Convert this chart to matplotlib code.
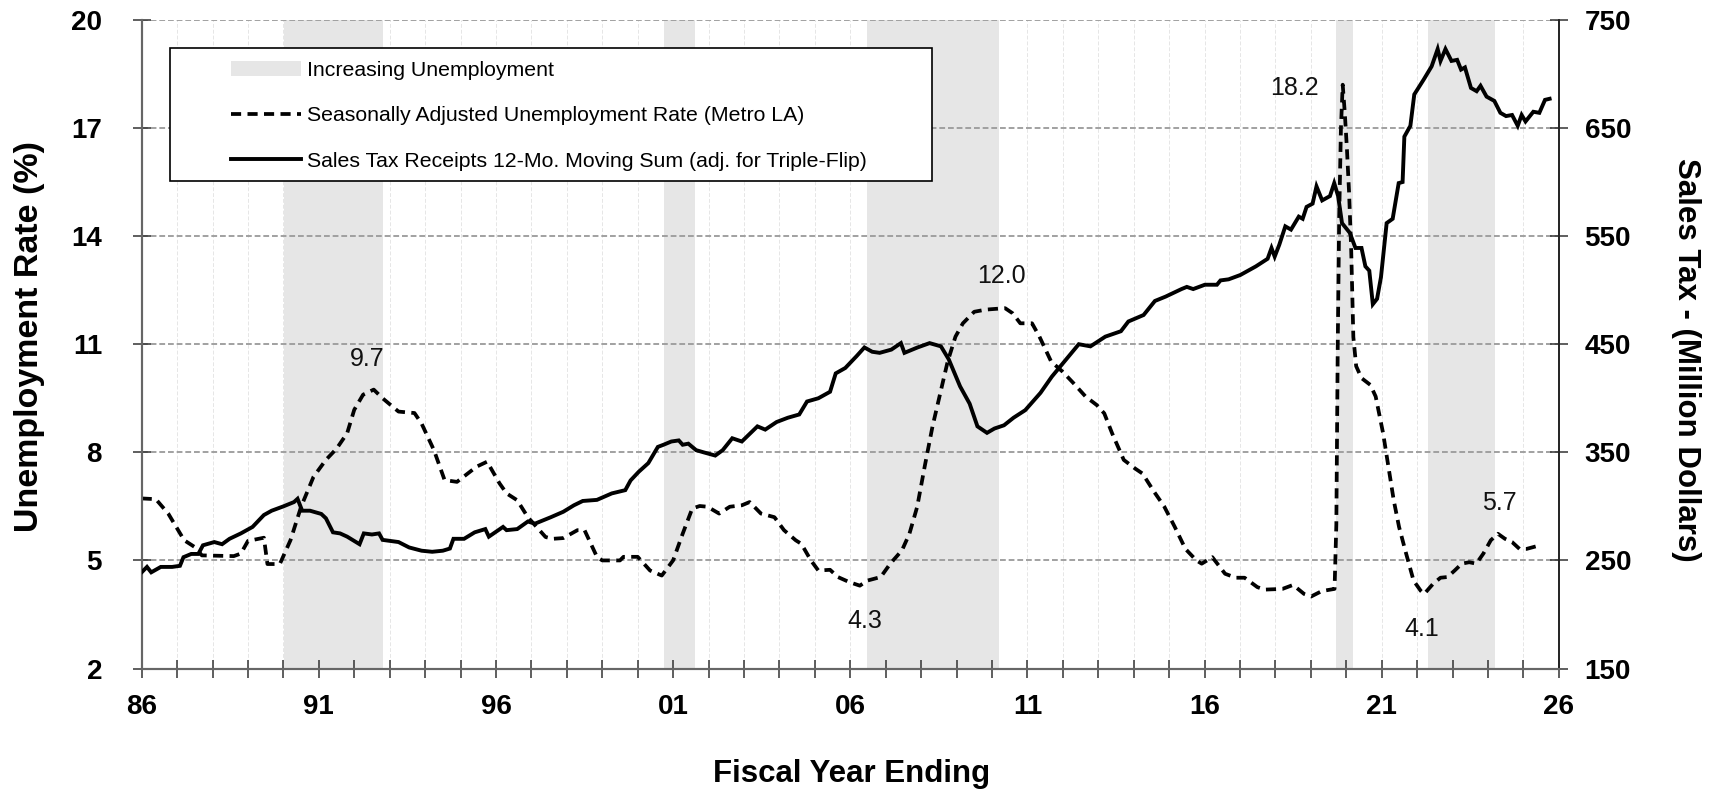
import numpy as np
import matplotlib
matplotlib.use("Agg")
import matplotlib.pyplot as plt
from matplotlib.patches import Patch, Rectangle
from matplotlib.lines import Line2D

plt.rcParams["font.family"] = ["Liberation Sans", "DejaVu Sans"]
plt.rcParams["hatch.color"] = "#c4c4c4"
plt.rcParams["hatch.linewidth"] = 0.6

# seasonally adjusted unemployment rate, metro LA (%)
unemp_year = [1986.0, 1986.4, 1986.75, 1987.2, 1987.5, 1987.7, 1988.6, 1988.8, 1989.0, 1989.45,
              1989.55, 1989.9, 1990.2, 1990.5, 1990.85, 1991.2, 1991.5, 1991.8, 1992.0, 1992.25,
              1992.55, 1992.8, 1993.25, 1993.7, 1993.9, 1994.25, 1994.55, 1994.9, 1995.2, 1995.45,
              1995.75, 1996.1, 1996.3, 1996.6, 1996.9, 1997.4, 1997.6, 1997.9, 1998.3, 1998.5,
              1998.85, 1999.0, 1999.5, 1999.6, 2000.0, 2000.35, 2000.68, 2001.0, 2001.27, 2001.54,
              2001.75, 2001.97, 2002.3, 2002.6, 2002.94, 2003.16, 2003.48, 2003.86, 2004.13, 2004.46,
              2004.62, 2004.89, 2005.1, 2005.43, 2005.65, 2005.97, 2006.27, 2006.48, 2006.86, 2007.13,
              2007.46, 2007.67, 2007.89, 2008.1, 2008.32, 2008.54, 2008.75, 2008.97, 2009.18, 2009.5,
              2009.83, 2010.37, 2010.58, 2010.8, 2011.13, 2011.34, 2011.67, 2011.99, 2012.3, 2012.64,
              2012.96, 2013.17, 2013.39, 2013.72, 2014.04, 2014.25, 2014.58, 2014.86, 2015.16, 2015.46,
              2015.77, 2015.92, 2016.22, 2016.58, 2016.88, 2017.13, 2017.49, 2017.69, 2018.2, 2018.5,
              2018.81, 2019.01, 2019.31, 2019.67, 2019.72, 2019.76, 2019.8, 2019.85, 2019.9, 2019.96,
              2020.02, 2020.08, 2020.14, 2020.2, 2020.28, 2020.43, 2020.68, 2020.83, 2021.04, 2021.19,
              2021.34, 2021.49, 2021.69, 2021.9, 2022.1, 2022.2, 2022.45, 2022.66, 2022.86, 2023.06,
              2023.26, 2023.47, 2023.67, 2023.87, 2024.08, 2024.28, 2024.48, 2024.68, 2024.89, 2025.09,
              2025.39]
unemp_rate = [6.72, 6.7, 6.3, 5.56, 5.37, 5.14, 5.12, 5.19, 5.54, 5.63,
              4.9, 4.9, 5.56, 6.49, 7.32, 7.79, 8.1, 8.53, 9.18, 9.6,
              9.74, 9.5, 9.13, 9.09, 8.8, 8.06, 7.23, 7.18, 7.41, 7.6,
              7.74, 7.14, 6.86, 6.67, 6.2, 5.65, 5.6, 5.62, 5.84, 5.84,
              5.1, 5.0, 5.0, 5.1, 5.1, 4.72, 4.58, 5.0, 5.74, 6.44,
              6.51, 6.49, 6.3, 6.49, 6.53, 6.62, 6.3, 6.2, 5.84, 5.56,
              5.46, 5.0, 4.72, 4.74, 4.54, 4.4, 4.3, 4.44, 4.54, 4.91,
              5.28, 5.74, 6.49, 7.6, 8.71, 9.64, 10.52, 11.21, 11.58, 11.9,
              11.96, 12.0, 11.86, 11.58, 11.58, 11.21, 10.52, 10.24, 9.92, 9.55,
              9.31, 9.08, 8.53, 7.79, 7.55, 7.41, 6.9, 6.5, 5.93, 5.32,
              5.0, 4.91, 5.09, 4.63, 4.52, 4.52, 4.26, 4.19, 4.21, 4.32,
              4.07, 4.0, 4.15, 4.21, 6.0, 11.0, 14.5, 17.0, 18.2, 17.4,
              16.4, 15.2, 13.6, 11.2, 10.39, 10.06, 9.87, 9.55, 8.53, 7.6,
              6.67, 5.93, 5.19, 4.44, 4.16, 4.07, 4.35, 4.52, 4.54, 4.72,
              4.91, 4.95, 4.91, 5.19, 5.56, 5.74, 5.6, 5.51, 5.32, 5.32,
              5.4]

# sales tax receipts, 12-month moving sum (million dollars)
tax_year = [1986.0, 1986.15, 1986.27, 1986.54, 1986.86, 1987.08, 1987.18, 1987.4, 1987.6, 1987.73,
            1988.05, 1988.27, 1988.48, 1988.8, 1989.13, 1989.45, 1989.67, 1990.0, 1990.3, 1990.4,
            1990.53, 1990.75, 1991.07, 1991.2, 1991.4, 1991.6, 1991.8, 1992.15, 1992.27, 1992.5,
            1992.7, 1992.8, 1993.25, 1993.55, 1993.9, 1994.2, 1994.5, 1994.7, 1994.8, 1995.1,
            1995.4, 1995.7, 1995.8, 1996.2, 1996.3, 1996.6, 1996.9, 1997.1, 1997.55, 1997.9,
            1998.2, 1998.45, 1998.85, 1999.27, 1999.65, 1999.8, 2000.03, 2000.3, 2000.57, 2000.73,
            2000.95, 2001.16, 2001.27, 2001.43, 2001.65, 2001.86, 2002.19, 2002.4, 2002.67, 2002.94,
            2003.38, 2003.6, 2003.92, 2004.24, 2004.56, 2004.78, 2005.1, 2005.43, 2005.59, 2005.86,
            2006.18, 2006.4, 2006.62, 2006.83, 2007.16, 2007.43, 2007.53, 2007.9, 2008.24, 2008.56,
            2008.78, 2009.1, 2009.37, 2009.59, 2009.86, 2010.07, 2010.34, 2010.61, 2010.94, 2011.37,
            2011.69, 2012.02, 2012.45, 2012.78, 2013.2, 2013.64, 2013.85, 2014.28, 2014.6, 2014.9,
            2015.35, 2015.5, 2015.68, 2016.01, 2016.35, 2016.45, 2016.68, 2017.01, 2017.45, 2017.78,
            2017.89, 2017.98, 2018.11, 2018.28, 2018.44, 2018.66, 2018.77, 2018.88, 2019.05, 2019.16,
            2019.32, 2019.54, 2019.66, 2019.77, 2019.88, 2020.1, 2020.26, 2020.43, 2020.54, 2020.65,
            2020.75, 2020.87, 2020.98, 2021.14, 2021.31, 2021.48, 2021.59, 2021.64, 2021.81, 2021.92,
            2022.19, 2022.41, 2022.58, 2022.66, 2022.8, 2022.97, 2023.13, 2023.24, 2023.35, 2023.52,
            2023.68, 2023.79, 2023.96, 2024.18, 2024.35, 2024.51, 2024.68, 2024.84, 2024.95, 2025.06,
            2025.28, 2025.45, 2025.61, 2025.74]
tax_sum = [239, 244, 239, 244, 244, 245, 253, 256, 256, 264,
           267, 265, 270, 275, 281, 292, 296, 300, 304, 307,
           296, 296, 293, 289, 276, 275, 272, 265, 275, 274,
           275, 269, 267, 262, 259, 258, 259, 261, 270, 270,
           276, 279, 272, 281, 278, 279, 286, 284, 290, 295,
           301, 305, 306, 312, 315, 324, 332, 340, 355, 357,
           360, 361, 357, 358, 352, 350, 347, 352, 363, 360,
           374, 371, 378, 382, 385, 397, 400, 406, 423, 428,
           439, 447, 443, 442, 445, 451, 442, 447, 451, 448,
           436, 411, 395, 374, 368, 372, 375, 382, 389, 405,
           420, 433, 450, 448, 457, 462, 471, 477, 490, 494,
           501, 503, 501, 505, 505, 509, 510, 514, 522, 529,
           539, 531, 542, 559, 556, 568, 566, 577, 580, 596,
           583, 587, 599, 587, 562, 553, 539, 539, 522, 518,
           487, 492, 512, 562, 566, 599, 600, 642, 652, 681,
           695, 707, 723, 712, 723, 712, 713, 704, 706, 687,
           684, 689, 679, 675, 664, 661, 662, 652, 662, 656,
           665, 664, 676, 677]

# periods of increasing unemployment
shade_start = [1990.02, 2000.73, 2006.47, 2019.70, 2022.30]
shade_end = [1992.80, 2001.62, 2010.20, 2020.20, 2024.21]

# peak / trough labels
note_text = ["9.7", "12.0", "4.3", "18.2", "4.1", "5.7"]
note_x = [1992.37, 2010.28, 2006.4, 2018.55, 2022.12, 2024.33]
note_y = [10.6, 12.9, 3.33, 18.1, 3.1, 6.6]

x_ticks = list(range(1986, 2027, 5))
x_labels = ["86", "91", "96", "01", "06", "11", "16", "21", "26"]
left_ticks = [2, 5, 8, 11, 14, 17, 20]
right_ticks = [150, 250, 350, 450, 550, 650, 750]

fig = plt.figure(figsize=(17.13, 7.94), dpi=100)
ax = fig.add_axes([0.0827, 0.158, 0.8273, 0.817])
ax2 = ax.twinx()

shade_kw = dict(facecolor="#e6e6e6", edgecolor="none", hatch="....", linewidth=0)
for a, b in zip(shade_start, shade_end):
    ax.axvspan(a, b, zorder=0, **shade_kw)

ax.set_xlim(1986, 2026)
ax.set_ylim(2, 20)
ax2.set_ylim(150, 750)

ax.set_xticks(x_ticks)
ax.set_xticklabels(x_labels)
ax.set_xticks(range(1986, 2027), minor=True)
ax.set_yticks(left_ticks)
ax2.set_yticks(right_ticks)

for y in left_ticks[1:]:
    ax.axhline(y, color="#9a9a9a", lw=1.3, ls=(0, (3.2, 1.6)), zorder=1)
for yr in range(1987, 2026):
    ax.axvline(yr, color="#e6e6e6", lw=0.7, ls=(0, (4, 2)), zorder=0.5)

dash_style = (0, (2.7, 1.7))
ax.plot(unemp_year, unemp_rate, color="black", lw=2.7, ls=dash_style, zorder=3)
ax2.plot(tax_year, tax_sum, color="black", lw=2.8, solid_joinstyle="miter", zorder=3)

for t, x, y in zip(note_text, note_x, note_y):
    ax.text(x, y, t, ha="center", va="center", fontsize=18, color="#111111", zorder=4)

tick_kw = dict(direction="inout", length=13, width=1.1, colors="#333333")
ax.tick_params(axis="x", which="both", pad=12, labelsize=20, labelcolor="black", **tick_kw)
ax.tick_params(axis="y", pad=22, labelsize=20, labelcolor="black", **tick_kw)
ax2.tick_params(axis="y", pad=12, labelsize=20, labelcolor="black", **tick_kw)
for lab in ax.get_xticklabels() + ax.get_yticklabels() + ax2.get_yticklabels():
    lab.set_fontweight("bold")

for a in (ax, ax2):
    a.spines["top"].set_visible(False)
    a.spines["left"].set_color("#666666")
    a.spines["bottom"].set_color("#666666")
    a.spines["left"].set_linewidth(1.5)
    a.spines["bottom"].set_linewidth(1.5)
    a.spines["right"].set_color("#222222")
    a.spines["right"].set_linewidth(1.2)

fig.text(0.017, 0.576, "Unemployment Rate (%)", rotation=90, ha="center", va="center",
         fontsize=24.5, fontweight="bold")
fig.text(0.984, 0.547, "Sales Tax - (Million Dollars)", rotation=-90, ha="center", va="center",
         fontsize=22.5, fontweight="bold")
fig.text(0.497, 0.025, "Fiscal Year Ending", ha="center", va="center",
         fontsize=22.5, fontweight="bold")

# legend box drawn by hand so the wide left margin matches
ax2.add_patch(Rectangle((0.020, 0.751), 0.538, 0.205, transform=ax2.transAxes,
                        facecolor="white", edgecolor="black", lw=1.2, zorder=5))
handles = [Patch(label="Increasing Unemployment", **shade_kw),
           Line2D([], [], color="black", lw=2.7, ls=dash_style,
                  label="Seasonally Adjusted Unemployment Rate (Metro LA)"),
           Line2D([], [], color="black", lw=2.8,
                  label="Sales Tax Receipts 12-Mo. Moving Sum (adj. for Triple-Flip)")]
leg = ax2.legend(handles=handles, loc="upper left", bbox_to_anchor=(0.063, 0.937),
                 frameon=False, fontsize=15.3, handlelength=3.3, handleheight=0.7,
                 handletextpad=0.3, labelspacing=1.25, borderpad=0, borderaxespad=0)
leg.set_zorder(6)

fig.savefig("out.png", dpi=100)
